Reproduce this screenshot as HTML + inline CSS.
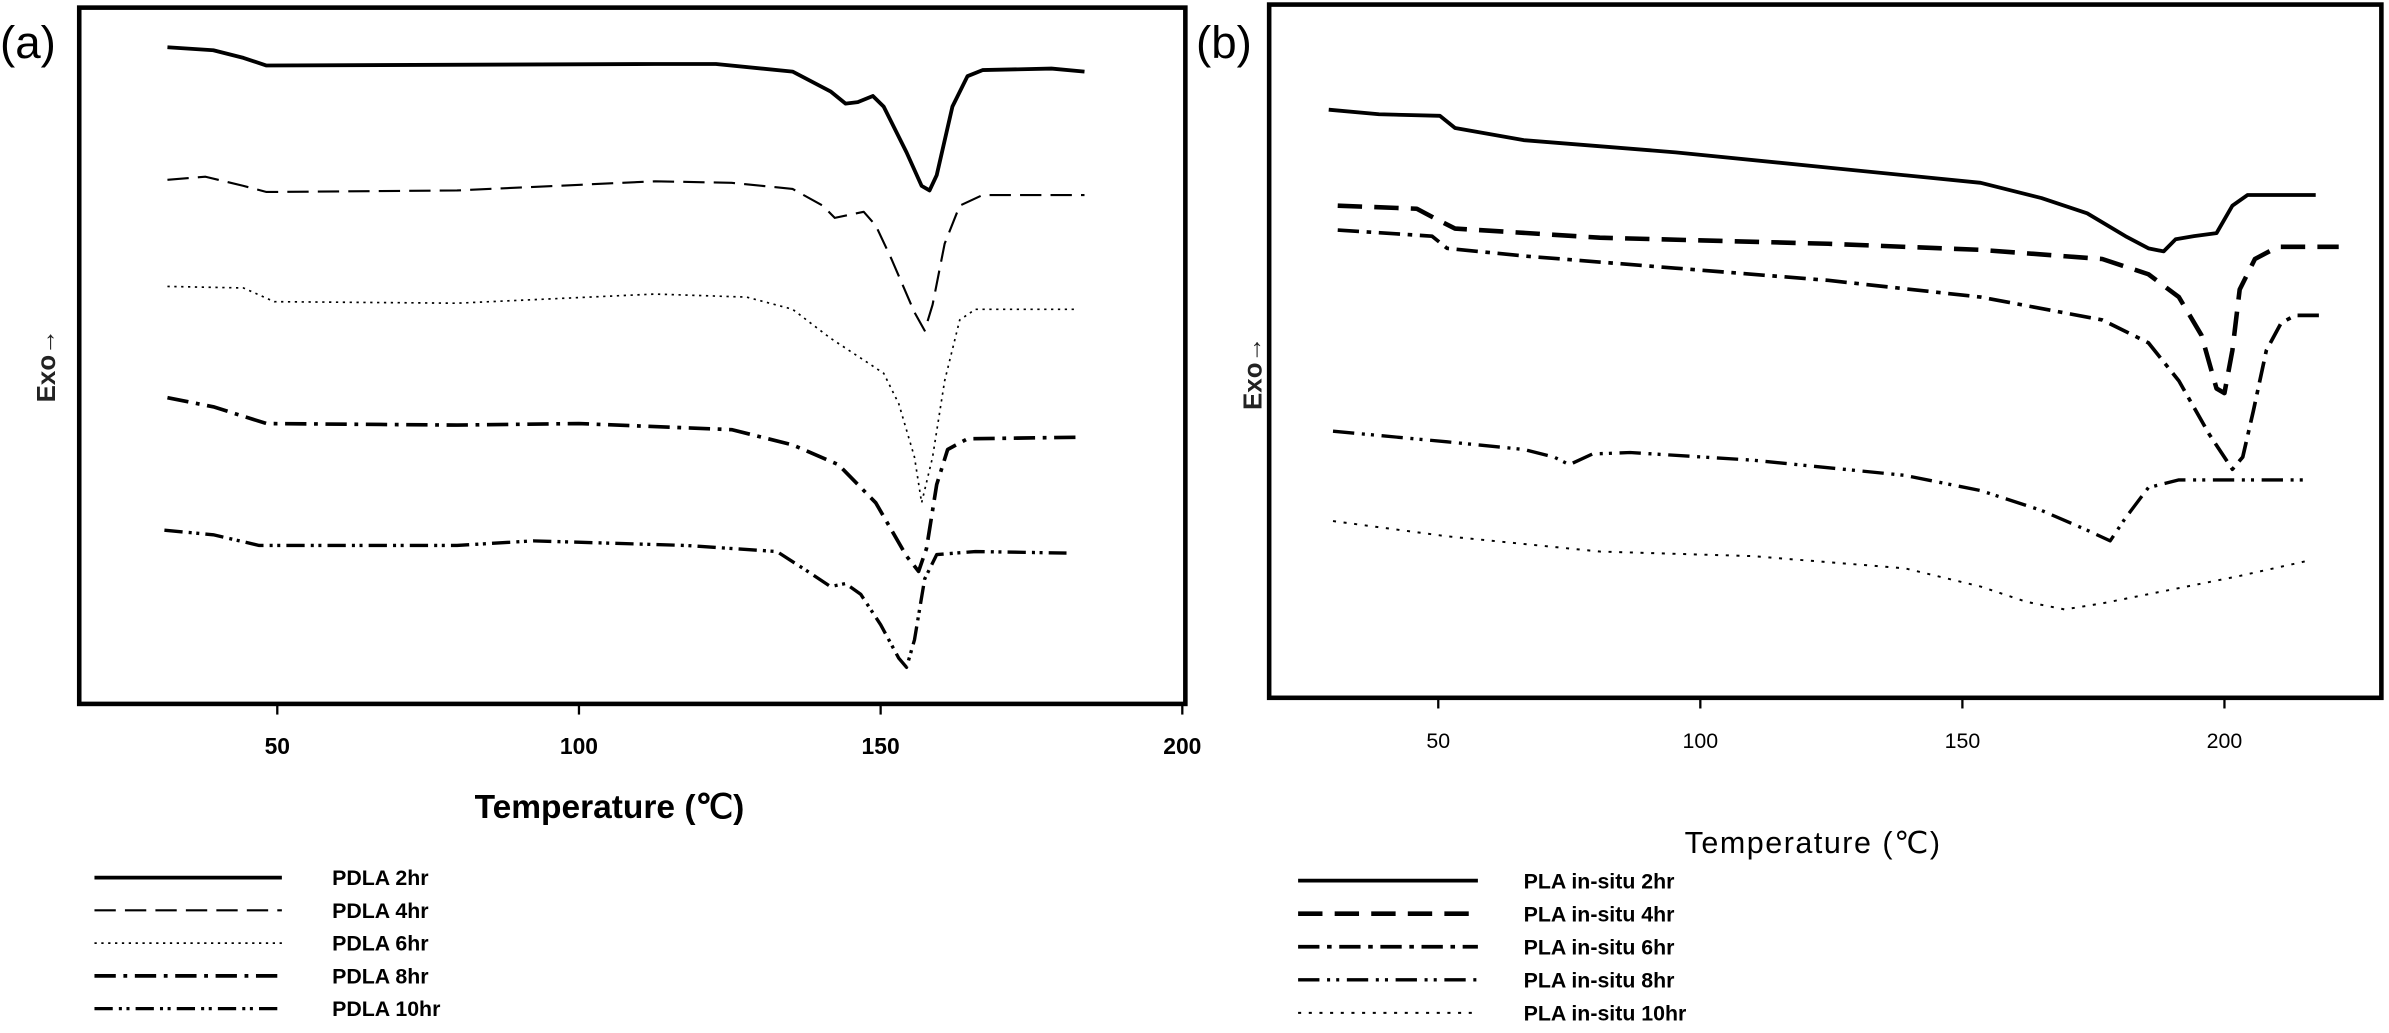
<!DOCTYPE html>
<html><head><meta charset="utf-8"><style>
html,body{margin:0;padding:0;background:#fff;}
svg{display:block;font-family:"Liberation Sans",sans-serif;}
</style></head><body>
<svg id="chart" width="2389" height="1033" viewBox="0 0 1568 678" preserveAspectRatio="none" xmlns="http://www.w3.org/2000/svg">
<g id="pa"></g>
<g id="pb"></g>
</svg>
<script>
const NS="http://www.w3.org/2000/svg";
// Panel (a) data: temperature (°C) and heat flow (a.u.)
const aTicks=[50,100,150,200];
const aNames=["PDLA 2hr","PDLA 4hr","PDLA 6hr","PDLA 8hr","PDLA 10hr"];
const a2T=[31.8,39.4,44.4,48.2,112.6,122.7,135.4,141.7,144.2,146.2,148.7,150.5,154.3,156.8,158.1,159.3,161.9,164.4,166.9,178.3,183.8];
const a2V=[431,429,424,419,420,420,415,402,394,395,399,392,362,340,337,347,392,412,416,417,415];
const a4T=[31.8,38.1,44.4,48.2,79.8,112.6,125.3,135.4,140.4,142.4,147.2,149.2,151.8,155.6,157.3,158.6,160.6,163.1,166.9,183.8];
const a4V=[344,346,340,336,337,343,342,338,327,319,323,314,292,257,245,262,302,327,334,334];
const a6T=[31.8,44.4,49.5,79.8,112.6,127.8,135.4,141.7,146.7,150.5,153.0,155.6,156.8,158.6,160.6,163.1,165.7,182.3];
const a6V=[274,273,264,263,269,267,259,240,227,217,197,162,132,162,212,252,259,259];
const a8T=[31.8,39.4,48.2,79.8,100,125.3,135.4,143.0,149.2,154.3,156.3,157.6,159.3,161.1,164.4,182.3];
const a8V=[201,195,184,183,184,180,170,157,132,97,87,102,144,167,174,175];
const a10T=[31.3,39.4,47.0,79.8,92.4,117.7,132.8,137.9,141.7,144.2,146.7,150.0,153.0,154.3,155.6,157.3,159.3,165.7,180.8];
const a10V=[114,111,104,104,107,104,100,87,77,79,72,52,30,24,42,82,98,100,99];
// Panel (b) data
const bTicks=[50,100,150,200];
const bNames=["PLA in-situ 2hr","PLA in-situ 4hr","PLA in-situ 6hr","PLA in-situ 8hr","PLA in-situ 10hr"];
const b2T=[29.1,38.7,50.3,53.2,66.3,95.3,124.4,153.5,165.1,173.8,181.1,185.5,188.4,190.7,194.2,198.5,201.5,204.4,217.4];
const b2V=[386,383,382,374,366,358,348,338,328,318,303,295,293,301,303,305,323,330,330];
const b4T=[30.8,45.9,50.3,53.2,80.8,124.4,153.5,176.7,185.5,191.3,195.6,198.5,200.0,201.5,202.9,205.8,210.2,221.8];
const b4V=[323,321,313,308,302,298,294,288,278,263,238,203,200,228,268,288,296,296];
const b6T=[30.8,48.8,51.7,66.3,95.3,124.4,153.5,176.7,185.5,191.3,197.1,201.5,203.5,205.5,208.0,210.8,213.5,218.9];
const b6V=[307,303,295,290,282,274,263,248,233,208,173,150,158,188,228,246,251,251];
const b8T=[29.9,51.7,66.3,72.1,75.0,79.4,86.6,109.9,139.0,153.5,165.1,173.8,178.2,181.1,185.5,191.3,216.0];
const b8V=[175,168,163,158,153,160,161,156,146,136,123,110,103,118,138,143,143];
const b10T=[29.9,51.7,80.8,109.9,139.0,153.5,162.2,169.5,176.7,188.4,202.9,216.0];
const b10V=[116,106,96,93,85,73,63,58,62,70,80,90];

function el(tag,attrs,parent,txt){const e=document.createElementNS(NS,tag);for(const k in attrs)e.setAttribute(k,attrs[k]);if(txt!==undefined)e.textContent=txt;parent.appendChild(e);return e;}

function panel(g,cfg){
  const xs=T=>cfg.x0+(T-cfg.t0)*cfg.k;
  const ys=v=>cfg.bottom-v;
  const f=el('rect',{x:cfg.left,y:cfg.top,width:cfg.right-cfg.left,height:cfg.bottom-cfg.top,fill:'none',stroke:'#000','stroke-width':cfg.fw},g);
  
  
  cfg.ticks.forEach(t=>{
    const tk=el('line',{x1:xs(t),x2:xs(t),y1:cfg.bottom,y2:cfg.bottom+7,stroke:'#000','stroke-width':1.5},g);
    
    
    const tl=el('text',{x:xs(t),y:cfg.bottom+33,'text-anchor':'middle','font-size':cfg.tfs,'font-weight':cfg.bold?'bold':'normal'},g,String(t));
    
    
  });
  const tt=el('text',{x:cfg.titleX,y:cfg.titleY,'text-anchor':'middle','font-size':cfg.titleFs,'font-weight':cfg.bold?'bold':'normal','letter-spacing':cfg.bold?0:1},g,'Temperature (℃)');
  
  
  const yt=el('text',{x:0,y:0,'text-anchor':'middle','font-size':17,'font-weight':'bold',fill:'#222',transform:`translate(${cfg.exoX},${cfg.exoY}) rotate(-90)`},g,'Exo→');
  
  
  const pl=el('text',{x:cfg.labX,y:38,'font-size':30},g,cfg.label);
  
  
  cfg.series.forEach((s,i)=>{
    const pts=s.T.map((t,j)=>xs(t).toFixed(1)+','+ys(s.V[j]).toFixed(1)).join(' ');
    const p=el('polyline',{points:pts,fill:'none',stroke:'#000','stroke-width':s.w,'stroke-dasharray':s.d,'stroke-linejoin':'round'},g);
    
    
    const ly=cfg.legY+i*cfg.legDy;
    const ll=el('line',{x1:cfg.legX1,x2:cfg.legX2,y1:ly,y2:ly,stroke:'#000','stroke-width':s.w,'stroke-dasharray':s.d},g);
    
    
    const lt=el('text',{x:cfg.legTX,y:ly+5,'font-size':14,'font-weight':'bold'},g,cfg.names[i]);
    
    
  });
}
panel(document.getElementById('pa'),{left:52,right:778,top:5,bottom:462,x0:182,t0:50,k:3.96,ticks:aTicks,tfs:15,bold:true,fw:3,
  titleX:400,titleY:537,titleFs:22,exoX:36,exoY:240,label:'(a)',labX:0,names:aNames,
  legX1:62,legX2:185,legTX:218,legY:576,legDy:21.5,
  series:[{T:a2T,V:a2V,w:2.5,d:'none'},{T:a4T,V:a4V,w:1.4,d:'14 6'},{T:a6T,V:a6V,w:1.1,d:'1.5 3'},{T:a8T,V:a8V,w:2.4,d:'14 5 2.5 5'},{T:a10T,V:a10V,w:2.2,d:'12 4 2 3 2 4'}]});
panel(document.getElementById('pb'),{left:833,right:1563,top:3,bottom:458,x0:944,t0:50,k:3.44,ticks:bTicks,tfs:14,bold:false,fw:3,
  titleX:1190,titleY:560,titleFs:20,exoX:828,exoY:245,label:'(b)',labX:785,names:bNames,
  legX1:852,legX2:970,legTX:1000,legY:578,legDy:21.7,
  series:[{T:b2T,V:b2V,w:2.5,d:'none'},{T:b4T,V:b4V,w:3,d:'16 8'},{T:b6T,V:b6V,w:2.4,d:'14 5 3 5'},{T:b8T,V:b8V,w:2.2,d:'14 5 2 4 2 5'},{T:b10T,V:b10V,w:1.3,d:'2 5'}]});
</script>
</body></html>
